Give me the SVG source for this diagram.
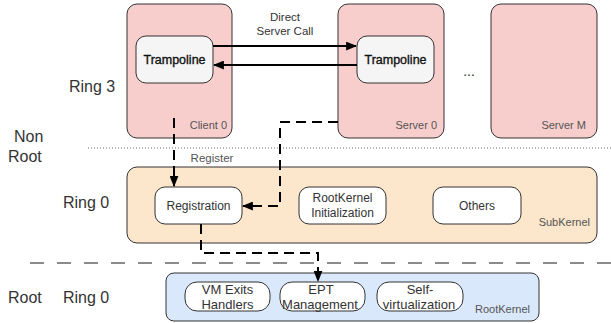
<svg xmlns="http://www.w3.org/2000/svg" width="611" height="323" viewBox="0 0 611 323">
<defs>
<style>
text{font-family:"Liberation Sans",Arial,sans-serif;}
.ring{font-size:16px;fill:#333;}
.lbl{font-size:11px;fill:#555;}
.in{font-size:12px;fill:#333;text-anchor:middle;}
.sm{font-size:13px;fill:#333;text-anchor:middle;}
.tr{font-size:12.5px;fill:#111;stroke:#111;stroke-width:0.35;text-anchor:middle;}
.proc{fill:#f8cecc;stroke:#333;stroke-width:1;}
.tramp{fill:#f5f5f5;stroke:#333;stroke-width:1;}
.wbox{fill:#fff;stroke:#333;stroke-width:1;}
.solid{fill:none;stroke:#000;stroke-width:2;}
.dash{fill:none;stroke:#000;stroke-width:2;stroke-dasharray:10 6;}
</style>
<marker id="ah" viewBox="0 0 10 8" refX="9" refY="4" markerWidth="11" markerHeight="9" markerUnits="userSpaceOnUse" orient="auto">
<path d="M0,0 L10,4 L0,8 z" fill="#000"/>
</marker>
</defs>

<g id="separators">
<line x1="88" y1="148" x2="611" y2="148" stroke="#666" stroke-width="1" stroke-dasharray="1 2"/>
<line x1="30" y1="263" x2="611" y2="263" stroke="#666" stroke-width="1.5" stroke-dasharray="14 13"/>
</g>

<g id="ring-labels">
<text class="ring" x="69" y="92">Ring 3</text>
<text class="ring" x="14" y="142">Non</text>
<text class="ring" x="8" y="162">Root</text>
<text class="ring" x="63" y="208">Ring 0</text>
<text class="ring" x="8" y="303">Root</text>
<text class="ring" x="63" y="303">Ring 0</text>
</g>

<g id="client0">
<rect class="proc" x="127" y="4" width="105" height="134" rx="10"/>
<text class="lbl" x="227" y="129" text-anchor="end">Client 0</text>
</g>
<g id="client0-trampoline">
<rect class="tramp" x="136" y="36" width="77" height="47" rx="10"/>
<text class="tr" x="174.5" y="64">Trampoline</text>
</g>

<g id="server0">
<rect class="proc" x="338" y="4" width="106" height="134" rx="10"/>
<text class="lbl" x="437" y="129" text-anchor="end">Server 0</text>
</g>
<g id="server0-trampoline">
<rect class="tramp" x="357" y="36" width="77" height="47" rx="10"/>
<text class="tr" x="395.5" y="64">Trampoline</text>
</g>

<g id="ellipsis">
<text x="469" y="76" font-size="14" fill="#333" text-anchor="middle">...</text>
</g>

<g id="serverM">
<rect class="proc" x="491" y="4" width="106" height="134" rx="10"/>
<text class="lbl" x="586" y="129" text-anchor="end">Server M</text>
</g>

<g id="subkernel">
<rect x="127" y="167" width="470" height="76" rx="10" fill="#fce6cc" stroke="#333" stroke-width="1"/>
<text class="lbl" x="590" y="226" text-anchor="end">SubKernel</text>
</g>
<g id="registration">
<rect class="wbox" x="155" y="187" width="87" height="37" rx="10"/>
<text class="in" x="198.5" y="210">Registration</text>
</g>
<g id="rootkernel-init">
<rect class="wbox" x="299" y="187" width="87" height="37" rx="10"/>
<text class="in" x="342.5" y="202">RootKernel</text>
<text class="in" x="342.5" y="217">Initialization</text>
</g>
<g id="others">
<rect class="wbox" x="433" y="187" width="88" height="37" rx="10"/>
<text class="in" x="477" y="210">Others</text>
</g>

<g id="rootkernel">
<rect x="166" y="273" width="373" height="48" rx="8" fill="#dae8fc" stroke="#333" stroke-width="1"/>
<text class="lbl" x="530" y="313" text-anchor="end">RootKernel</text>
</g>
<g id="vm-exits">
<rect class="wbox" x="185" y="282" width="85" height="29" rx="12"/>
<text class="sm" x="227.5" y="294">VM Exits</text>
<text class="sm" x="227.5" y="309">Handlers</text>
</g>
<g id="ept">
<rect class="wbox" x="280" y="282" width="85" height="29" rx="12"/>
<text class="sm" x="321" y="294">EPT</text>
<text class="sm" x="320" y="309">Management</text>
</g>
<g id="self-virt">
<rect class="wbox" x="377" y="282" width="86" height="29" rx="12"/>
<text class="sm" x="420" y="294">Self-</text>
<text class="sm" x="419" y="309">virtualization</text>
</g>

<g id="connectors">
<path class="solid" d="M213,46 H356" marker-end="url(#ah)"/>
<path class="solid" d="M357,65 H214" marker-end="url(#ah)"/>
<text x="285" y="21" font-size="11.5" fill="#333" text-anchor="middle">Direct</text>
<text x="285" y="35" font-size="11.5" fill="#333" text-anchor="middle">Server Call</text>
<path class="dash" d="M174,118 V186" marker-end="url(#ah)"/>
<text x="212" y="162" font-size="11.5" fill="#555" text-anchor="middle">Register</text>
<path class="dash" d="M338,122 H280 V206 H243" marker-end="url(#ah)"/>
<path class="dash" d="M201,224 V253 H318 V281" marker-end="url(#ah)"/>
</g>
</svg>
